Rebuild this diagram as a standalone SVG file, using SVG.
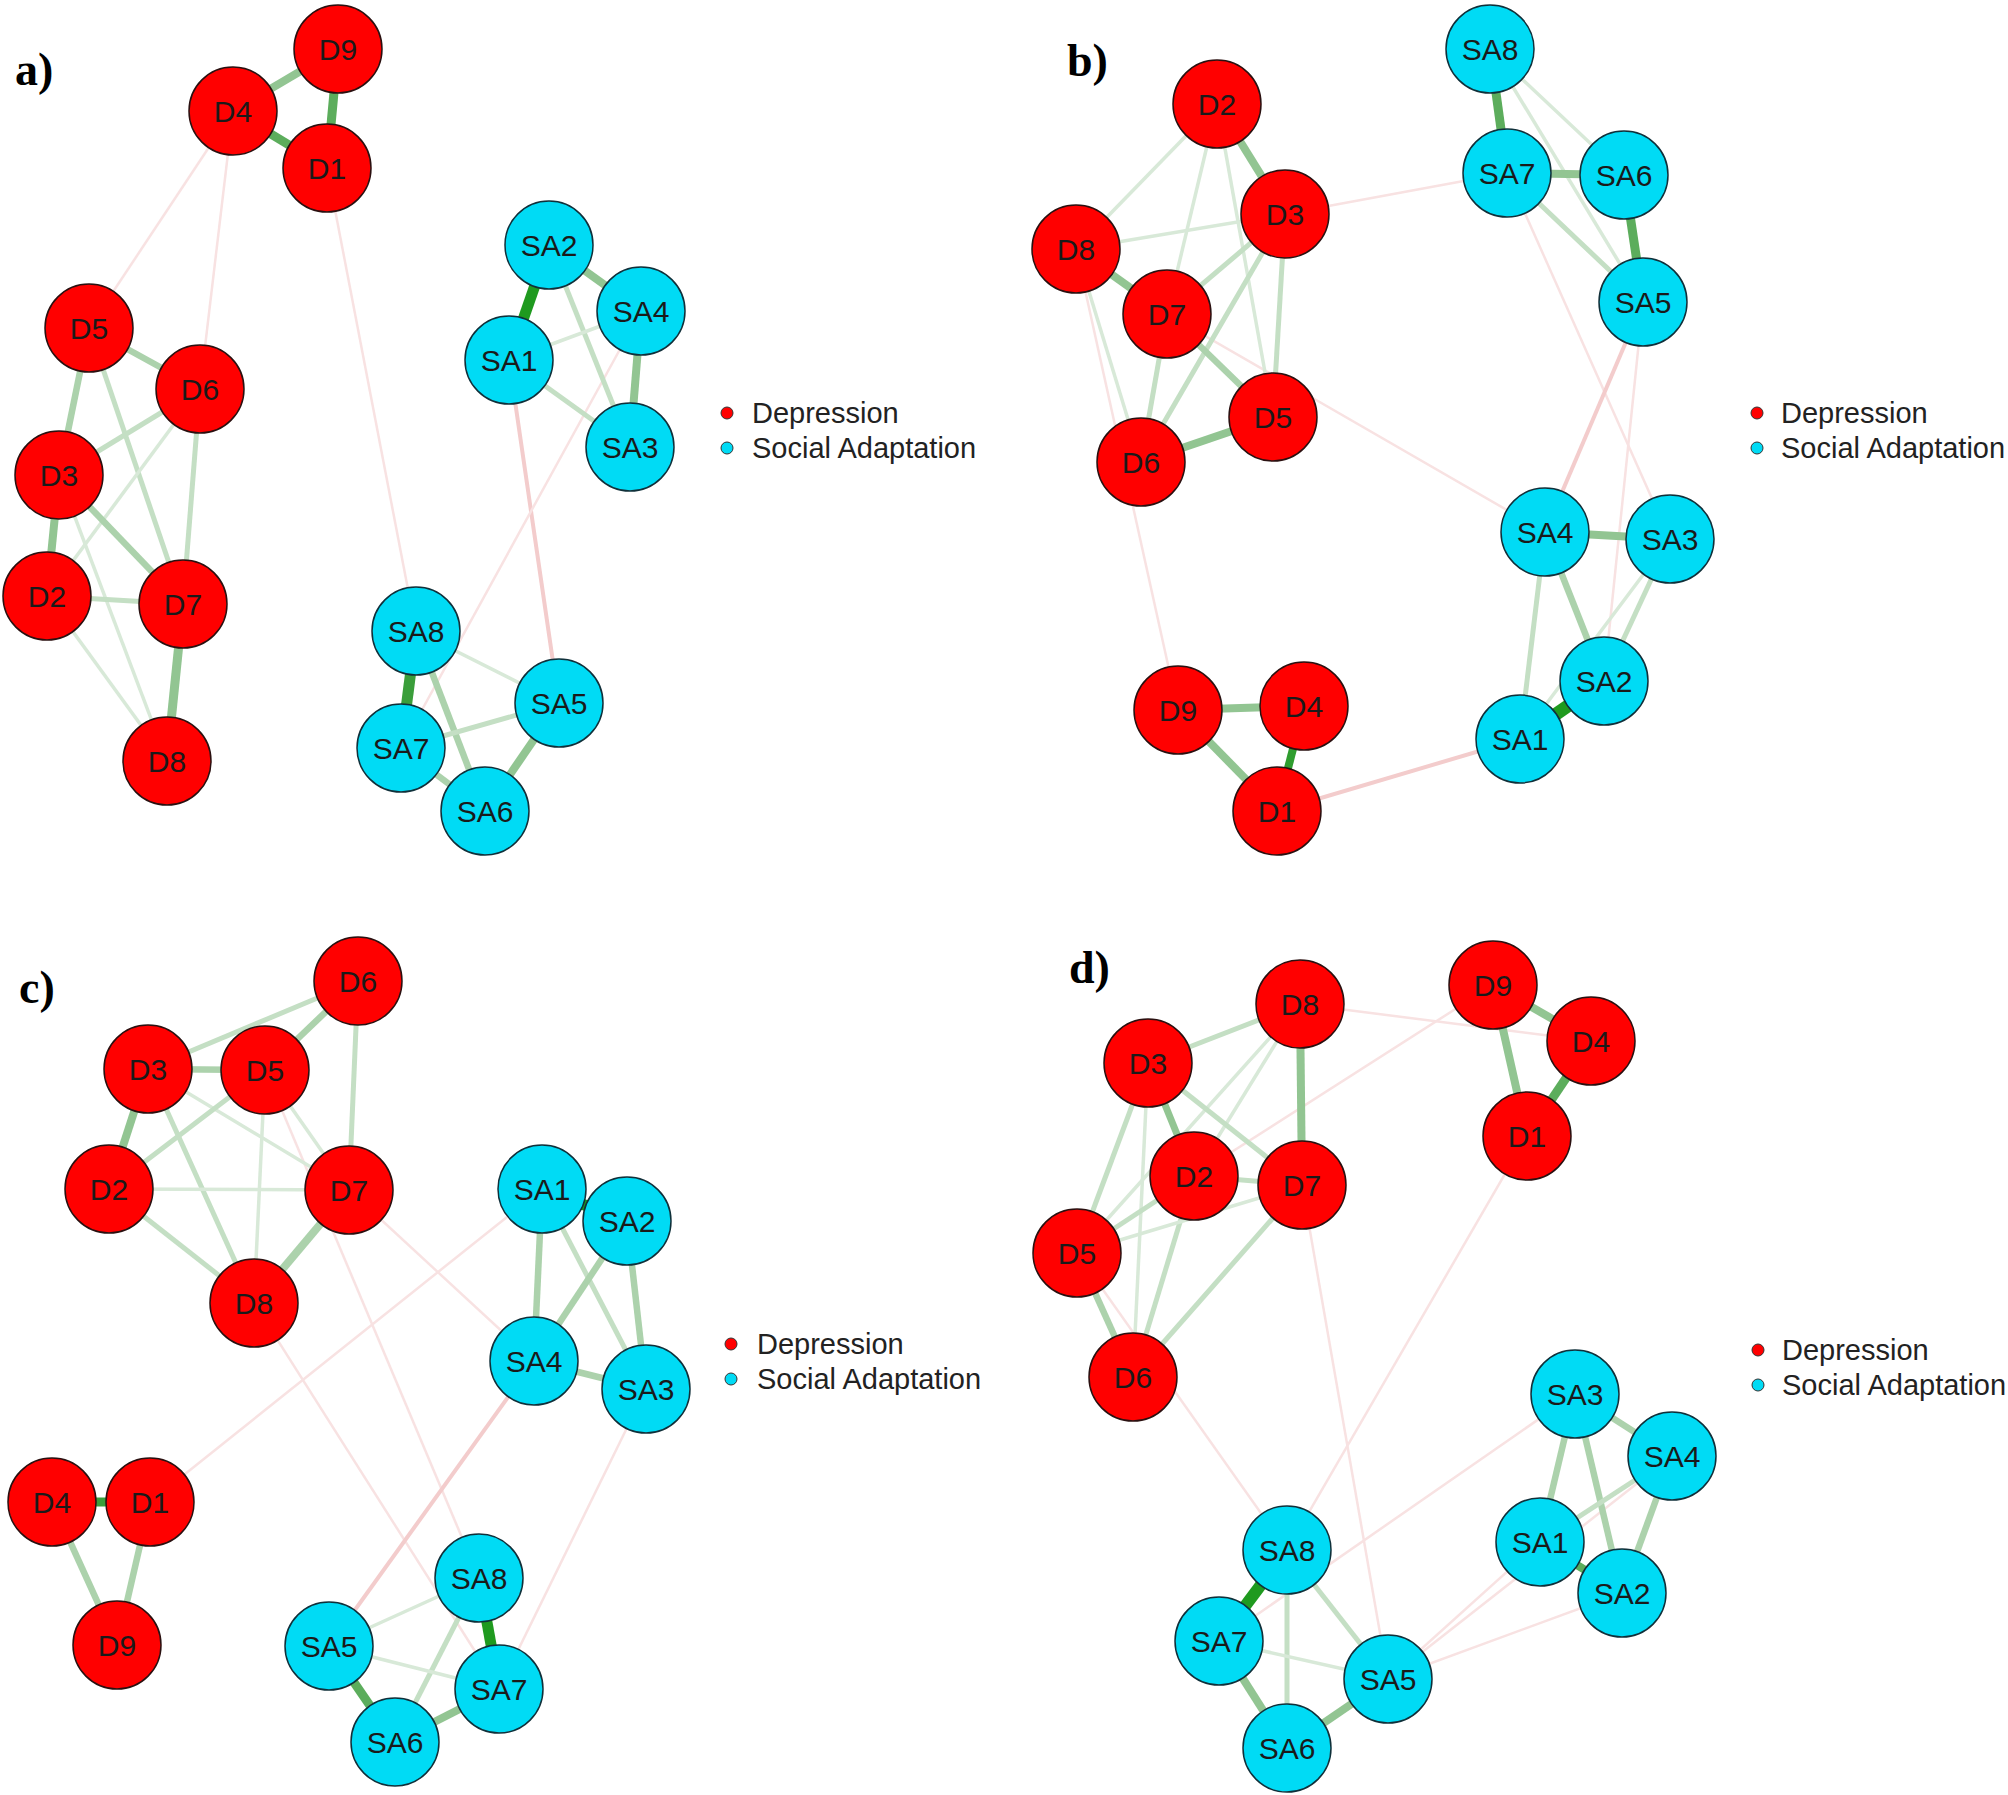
<svg xmlns="http://www.w3.org/2000/svg" width="2008" height="1795" viewBox="0 0 2008 1795">
<style>
line{stroke-linecap:butt;fill:none}
.s0{stroke:#1f9a1f;stroke-width:11}
.s1{stroke:#5cad5c;stroke-width:9}
.s2{stroke:#92c592;stroke-width:8}
.s3{stroke:#acd2ac;stroke-width:6.5}
.s4{stroke:#c4dfc4;stroke-width:5}
.s5{stroke:#d8e9d8;stroke-width:3.5}
.n1{stroke:#f3cccc;stroke-width:4}
.n2{stroke:#f8e2e2;stroke-width:2.5}
.dn circle{fill:#ff0000;stroke:#2a1010;stroke-width:1.5}
.sn circle{fill:#00dbf5;stroke:#10303a;stroke-width:1.5}
.node text{font-family:"Liberation Sans",Arial,sans-serif;font-size:30px;fill:#1a1a1a;text-anchor:middle}
.lg{font-family:"Liberation Sans",Arial,sans-serif;font-size:29px;fill:#222}
.pl{font-family:"Liberation Serif","Times New Roman",serif;font-size:46px;font-weight:bold;fill:#000}
.ld{fill:#ff0000;stroke:#333;stroke-width:1}
.ls{fill:#00dbf5;stroke:#333;stroke-width:1}
</style>
<rect width="2008" height="1795" fill="#ffffff"/>
<g id="connectors">
<g id="edges-a">
<line class="n2" x1="233" y1="111" x2="89" y2="328"/>
<line class="n2" x1="233" y1="111" x2="200" y2="389"/>
<line class="n2" x1="327" y1="168" x2="416" y2="631"/>
<line class="n1" x1="509" y1="360" x2="559" y2="703"/>
<line class="n2" x1="641" y1="311" x2="401" y2="748"/>
<line class="s2" x1="233" y1="111" x2="338" y2="49"/>
<line class="s1" x1="338" y1="49" x2="327" y2="168"/>
<line class="s1" x1="233" y1="111" x2="327" y2="168"/>
<line class="s3" x1="89" y1="328" x2="200" y2="389"/>
<line class="s3" x1="89" y1="328" x2="59" y2="475"/>
<line class="s4" x1="89" y1="328" x2="183" y2="604"/>
<line class="s4" x1="200" y1="389" x2="59" y2="475"/>
<line class="s5" x1="200" y1="389" x2="47" y2="596"/>
<line class="s4" x1="200" y1="389" x2="183" y2="604"/>
<line class="s2" x1="59" y1="475" x2="47" y2="596"/>
<line class="s3" x1="59" y1="475" x2="183" y2="604"/>
<line class="s5" x1="59" y1="475" x2="167" y2="761"/>
<line class="s4" x1="47" y1="596" x2="183" y2="604"/>
<line class="s5" x1="47" y1="596" x2="167" y2="761"/>
<line class="s2" x1="183" y1="604" x2="167" y2="761" style="stroke-width:9"/>
<line class="s0" x1="549" y1="245" x2="509" y2="360"/>
<line class="s2" x1="549" y1="245" x2="641" y2="311"/>
<line class="s4" x1="549" y1="245" x2="630" y2="447"/>
<line class="s5" x1="509" y1="360" x2="641" y2="311"/>
<line class="s4" x1="509" y1="360" x2="630" y2="447"/>
<line class="s2" x1="641" y1="311" x2="630" y2="447"/>
<line class="s0" x1="416" y1="631" x2="401" y2="748" style="stroke:#3a9e3a"/>
<line class="s5" x1="416" y1="631" x2="559" y2="703"/>
<line class="s3" x1="416" y1="631" x2="485" y2="811"/>
<line class="s4" x1="401" y1="748" x2="559" y2="703"/>
<line class="s3" x1="401" y1="748" x2="485" y2="811"/>
<line class="s2" x1="559" y1="703" x2="485" y2="811"/>
</g>
<g id="edges-b">
<line class="n2" x1="1507" y1="173" x2="1285" y2="214"/>
<line class="n2" x1="1507" y1="173" x2="1670" y2="539"/>
<line class="n1" x1="1643" y1="302" x2="1545" y2="532"/>
<line class="n2" x1="1643" y1="302" x2="1604" y2="681"/>
<line class="n2" x1="1076" y1="249" x2="1178" y2="710"/>
<line class="n2" x1="1167" y1="314" x2="1545" y2="532"/>
<line class="n1" x1="1277" y1="811" x2="1520" y2="739"/>
<line class="s1" x1="1490" y1="49" x2="1507" y2="173"/>
<line class="s5" x1="1490" y1="49" x2="1624" y2="175"/>
<line class="s5" x1="1490" y1="49" x2="1643" y2="302"/>
<line class="s2" x1="1507" y1="173" x2="1624" y2="175"/>
<line class="s1" x1="1624" y1="175" x2="1643" y2="302"/>
<line class="s4" x1="1507" y1="173" x2="1643" y2="302"/>
<line class="s2" x1="1217" y1="104" x2="1285" y2="214"/>
<line class="s5" x1="1217" y1="104" x2="1076" y2="249"/>
<line class="s5" x1="1217" y1="104" x2="1167" y2="314"/>
<line class="s5" x1="1217" y1="104" x2="1273" y2="417"/>
<line class="s5" x1="1285" y1="214" x2="1076" y2="249"/>
<line class="s4" x1="1285" y1="214" x2="1167" y2="314"/>
<line class="s4" x1="1285" y1="214" x2="1141" y2="462"/>
<line class="s4" x1="1285" y1="214" x2="1273" y2="417"/>
<line class="s2" x1="1076" y1="249" x2="1167" y2="314"/>
<line class="s5" x1="1076" y1="249" x2="1141" y2="462"/>
<line class="s3" x1="1167" y1="314" x2="1273" y2="417"/>
<line class="s4" x1="1167" y1="314" x2="1141" y2="462"/>
<line class="s2" x1="1273" y1="417" x2="1141" y2="462"/>
<line class="s2" x1="1178" y1="710" x2="1304" y2="706"/>
<line class="s2" x1="1178" y1="710" x2="1277" y2="811"/>
<line class="s0" x1="1304" y1="706" x2="1277" y2="811" style="stroke-width:8;stroke:#2f9d2f"/>
<line class="s2" x1="1545" y1="532" x2="1670" y2="539"/>
<line class="s3" x1="1545" y1="532" x2="1604" y2="681"/>
<line class="s4" x1="1545" y1="532" x2="1520" y2="739"/>
<line class="s4" x1="1670" y1="539" x2="1604" y2="681"/>
<line class="s5" x1="1670" y1="539" x2="1520" y2="739"/>
<line class="s0" x1="1520" y1="739" x2="1604" y2="681" style="stroke-width:13"/>
</g>
<g id="edges-c">
<line class="n2" x1="265" y1="1070" x2="479" y2="1578"/>
<line class="n2" x1="349" y1="1190" x2="534" y2="1361"/>
<line class="n2" x1="254" y1="1303" x2="499" y2="1689"/>
<line class="n2" x1="542" y1="1189" x2="150" y2="1502"/>
<line class="n1" x1="534" y1="1361" x2="329" y2="1646"/>
<line class="n2" x1="646" y1="1389" x2="499" y2="1689"/>
<line class="s3" x1="358" y1="981" x2="265" y2="1070"/>
<line class="s4" x1="358" y1="981" x2="148" y2="1069"/>
<line class="s4" x1="358" y1="981" x2="349" y2="1190"/>
<line class="s3" x1="148" y1="1069" x2="265" y2="1070"/>
<line class="s2" x1="148" y1="1069" x2="109" y2="1189"/>
<line class="s5" x1="148" y1="1069" x2="349" y2="1190"/>
<line class="s4" x1="148" y1="1069" x2="254" y2="1303"/>
<line class="s4" x1="265" y1="1070" x2="109" y2="1189"/>
<line class="s5" x1="265" y1="1070" x2="254" y2="1303"/>
<line class="s5" x1="265" y1="1070" x2="349" y2="1190"/>
<line class="s5" x1="109" y1="1189" x2="349" y2="1190"/>
<line class="s4" x1="109" y1="1189" x2="254" y2="1303"/>
<line class="s3" x1="349" y1="1190" x2="254" y2="1303" style="stroke-width:8"/>
<line class="s0" x1="542" y1="1189" x2="627" y2="1221"/>
<line class="s3" x1="542" y1="1189" x2="534" y2="1361"/>
<line class="s4" x1="542" y1="1189" x2="646" y2="1389"/>
<line class="s3" x1="627" y1="1221" x2="534" y2="1361"/>
<line class="s3" x1="627" y1="1221" x2="646" y2="1389"/>
<line class="s3" x1="534" y1="1361" x2="646" y2="1389"/>
<line class="s0" x1="52" y1="1502" x2="150" y2="1502" style="stroke-width:9;stroke:#3a9e3a"/>
<line class="s3" x1="52" y1="1502" x2="117" y2="1645"/>
<line class="s3" x1="150" y1="1502" x2="117" y2="1645"/>
<line class="s0" x1="479" y1="1578" x2="499" y2="1689"/>
<line class="s5" x1="479" y1="1578" x2="329" y2="1646"/>
<line class="s4" x1="479" y1="1578" x2="395" y2="1742"/>
<line class="s5" x1="329" y1="1646" x2="499" y2="1689"/>
<line class="s1" x1="329" y1="1646" x2="395" y2="1742"/>
<line class="s2" x1="395" y1="1742" x2="499" y2="1689"/>
</g>
<g id="edges-d">
<line class="n2" x1="1300" y1="1004" x2="1591" y2="1041"/>
<line class="n2" x1="1493" y1="985" x2="1194" y2="1176"/>
<line class="n2" x1="1077" y1="1253" x2="1287" y2="1550"/>
<line class="n2" x1="1302" y1="1185" x2="1388" y2="1679"/>
<line class="n2" x1="1527" y1="1136" x2="1287" y2="1550"/>
<line class="n2" x1="1575" y1="1394" x2="1219" y2="1641"/>
<line class="n2" x1="1540" y1="1542" x2="1388" y2="1679"/>
<line class="n2" x1="1672" y1="1456" x2="1388" y2="1679"/>
<line class="n2" x1="1622" y1="1593" x2="1388" y2="1679"/>
<line class="s2" x1="1493" y1="985" x2="1591" y2="1041"/>
<line class="s2" x1="1493" y1="985" x2="1527" y2="1136"/>
<line class="s1" x1="1591" y1="1041" x2="1527" y2="1136"/>
<line class="s4" x1="1300" y1="1004" x2="1148" y2="1063"/>
<line class="s2" x1="1300" y1="1004" x2="1302" y2="1185"/>
<line class="s5" x1="1300" y1="1004" x2="1194" y2="1176"/>
<line class="s5" x1="1300" y1="1004" x2="1077" y2="1253"/>
<line class="s2" x1="1148" y1="1063" x2="1194" y2="1176" style="stroke-width:7"/>
<line class="s4" x1="1148" y1="1063" x2="1302" y2="1185"/>
<line class="s4" x1="1148" y1="1063" x2="1077" y2="1253"/>
<line class="s5" x1="1148" y1="1063" x2="1133" y2="1377"/>
<line class="s4" x1="1194" y1="1176" x2="1302" y2="1185"/>
<line class="s4" x1="1194" y1="1176" x2="1077" y2="1253"/>
<line class="s4" x1="1194" y1="1176" x2="1133" y2="1377"/>
<line class="s5" x1="1302" y1="1185" x2="1077" y2="1253"/>
<line class="s4" x1="1302" y1="1185" x2="1133" y2="1377"/>
<line class="s3" x1="1077" y1="1253" x2="1133" y2="1377"/>
<line class="s3" x1="1575" y1="1394" x2="1672" y2="1456"/>
<line class="s3" x1="1575" y1="1394" x2="1540" y2="1542"/>
<line class="s3" x1="1575" y1="1394" x2="1622" y2="1593"/>
<line class="s4" x1="1672" y1="1456" x2="1540" y2="1542"/>
<line class="s3" x1="1672" y1="1456" x2="1622" y2="1593"/>
<line class="s1" x1="1540" y1="1542" x2="1622" y2="1593" style="stroke-width:8"/>
<line class="s0" x1="1287" y1="1550" x2="1219" y2="1641" style="stroke-width:12"/>
<line class="s4" x1="1287" y1="1550" x2="1287" y2="1748"/>
<line class="s4" x1="1287" y1="1550" x2="1388" y2="1679"/>
<line class="s5" x1="1219" y1="1641" x2="1388" y2="1679"/>
<line class="s2" x1="1219" y1="1641" x2="1287" y2="1748"/>
<line class="s2" x1="1287" y1="1748" x2="1388" y2="1679"/>
</g>
</g>
<g id="panel-a">
<text class="pl" x="15" y="85">a)</text>
<g id="a-D9" class="node dn"><circle cx="338" cy="49" r="44"/><text x="338" y="60">D9</text></g>
<g id="a-D4" class="node dn"><circle cx="233" cy="111" r="44"/><text x="233" y="122">D4</text></g>
<g id="a-D1" class="node dn"><circle cx="327" cy="168" r="44"/><text x="327" y="179">D1</text></g>
<g id="a-D5" class="node dn"><circle cx="89" cy="328" r="44"/><text x="89" y="339">D5</text></g>
<g id="a-D6" class="node dn"><circle cx="200" cy="389" r="44"/><text x="200" y="400">D6</text></g>
<g id="a-D3" class="node dn"><circle cx="59" cy="475" r="44"/><text x="59" y="486">D3</text></g>
<g id="a-D2" class="node dn"><circle cx="47" cy="596" r="44"/><text x="47" y="607">D2</text></g>
<g id="a-D7" class="node dn"><circle cx="183" cy="604" r="44"/><text x="183" y="615">D7</text></g>
<g id="a-D8" class="node dn"><circle cx="167" cy="761" r="44"/><text x="167" y="772">D8</text></g>
<g id="a-SA2" class="node sn"><circle cx="549" cy="245" r="44"/><text x="549" y="256">SA2</text></g>
<g id="a-SA4" class="node sn"><circle cx="641" cy="311" r="44"/><text x="641" y="322">SA4</text></g>
<g id="a-SA1" class="node sn"><circle cx="509" cy="360" r="44"/><text x="509" y="371">SA1</text></g>
<g id="a-SA3" class="node sn"><circle cx="630" cy="447" r="44"/><text x="630" y="458">SA3</text></g>
<g id="a-SA8" class="node sn"><circle cx="416" cy="631" r="44"/><text x="416" y="642">SA8</text></g>
<g id="a-SA5" class="node sn"><circle cx="559" cy="703" r="44"/><text x="559" y="714">SA5</text></g>
<g id="a-SA7" class="node sn"><circle cx="401" cy="748" r="44"/><text x="401" y="759">SA7</text></g>
<g id="a-SA6" class="node sn"><circle cx="485" cy="811" r="44"/><text x="485" y="822">SA6</text></g>
<g id="legend-a"><circle class="ld" cx="727" cy="413" r="6"/><text class="lg" x="752" y="423">Depression</text><circle class="ls" cx="727" cy="448" r="6"/><text class="lg" x="752" y="458">Social Adaptation</text></g>
</g>
<g id="panel-b">
<text class="pl" x="1067" y="76">b)</text>
<g id="b-SA8" class="node sn"><circle cx="1490" cy="49" r="44"/><text x="1490" y="60">SA8</text></g>
<g id="b-D2" class="node dn"><circle cx="1217" cy="104" r="44"/><text x="1217" y="115">D2</text></g>
<g id="b-SA7" class="node sn"><circle cx="1507" cy="173" r="44"/><text x="1507" y="184">SA7</text></g>
<g id="b-SA6" class="node sn"><circle cx="1624" cy="175" r="44"/><text x="1624" y="186">SA6</text></g>
<g id="b-D3" class="node dn"><circle cx="1285" cy="214" r="44"/><text x="1285" y="225">D3</text></g>
<g id="b-D8" class="node dn"><circle cx="1076" cy="249" r="44"/><text x="1076" y="260">D8</text></g>
<g id="b-D7" class="node dn"><circle cx="1167" cy="314" r="44"/><text x="1167" y="325">D7</text></g>
<g id="b-SA5" class="node sn"><circle cx="1643" cy="302" r="44"/><text x="1643" y="313">SA5</text></g>
<g id="b-D5" class="node dn"><circle cx="1273" cy="417" r="44"/><text x="1273" y="428">D5</text></g>
<g id="b-D6" class="node dn"><circle cx="1141" cy="462" r="44"/><text x="1141" y="473">D6</text></g>
<g id="b-SA4" class="node sn"><circle cx="1545" cy="532" r="44"/><text x="1545" y="543">SA4</text></g>
<g id="b-SA3" class="node sn"><circle cx="1670" cy="539" r="44"/><text x="1670" y="550">SA3</text></g>
<g id="b-SA2" class="node sn"><circle cx="1604" cy="681" r="44"/><text x="1604" y="692">SA2</text></g>
<g id="b-D9" class="node dn"><circle cx="1178" cy="710" r="44"/><text x="1178" y="721">D9</text></g>
<g id="b-D4" class="node dn"><circle cx="1304" cy="706" r="44"/><text x="1304" y="717">D4</text></g>
<g id="b-SA1" class="node sn"><circle cx="1520" cy="739" r="44"/><text x="1520" y="750">SA1</text></g>
<g id="b-D1" class="node dn"><circle cx="1277" cy="811" r="44"/><text x="1277" y="822">D1</text></g>
<g id="legend-b"><circle class="ld" cx="1757" cy="413" r="6"/><text class="lg" x="1781" y="423">Depression</text><circle class="ls" cx="1757" cy="448" r="6"/><text class="lg" x="1781" y="458">Social Adaptation</text></g>
</g>
<g id="panel-c">
<text class="pl" x="19" y="1003">c)</text>
<g id="c-D6" class="node dn"><circle cx="358" cy="981" r="44"/><text x="358" y="992">D6</text></g>
<g id="c-D3" class="node dn"><circle cx="148" cy="1069" r="44"/><text x="148" y="1080">D3</text></g>
<g id="c-D5" class="node dn"><circle cx="265" cy="1070" r="44"/><text x="265" y="1081">D5</text></g>
<g id="c-D2" class="node dn"><circle cx="109" cy="1189" r="44"/><text x="109" y="1200">D2</text></g>
<g id="c-D7" class="node dn"><circle cx="349" cy="1190" r="44"/><text x="349" y="1201">D7</text></g>
<g id="c-D8" class="node dn"><circle cx="254" cy="1303" r="44"/><text x="254" y="1314">D8</text></g>
<g id="c-SA1" class="node sn"><circle cx="542" cy="1189" r="44"/><text x="542" y="1200">SA1</text></g>
<g id="c-SA2" class="node sn"><circle cx="627" cy="1221" r="44"/><text x="627" y="1232">SA2</text></g>
<g id="c-SA4" class="node sn"><circle cx="534" cy="1361" r="44"/><text x="534" y="1372">SA4</text></g>
<g id="c-SA3" class="node sn"><circle cx="646" cy="1389" r="44"/><text x="646" y="1400">SA3</text></g>
<g id="c-D4" class="node dn"><circle cx="52" cy="1502" r="44"/><text x="52" y="1513">D4</text></g>
<g id="c-D1" class="node dn"><circle cx="150" cy="1502" r="44"/><text x="150" y="1513">D1</text></g>
<g id="c-D9" class="node dn"><circle cx="117" cy="1645" r="44"/><text x="117" y="1656">D9</text></g>
<g id="c-SA8" class="node sn"><circle cx="479" cy="1578" r="44"/><text x="479" y="1589">SA8</text></g>
<g id="c-SA5" class="node sn"><circle cx="329" cy="1646" r="44"/><text x="329" y="1657">SA5</text></g>
<g id="c-SA7" class="node sn"><circle cx="499" cy="1689" r="44"/><text x="499" y="1700">SA7</text></g>
<g id="c-SA6" class="node sn"><circle cx="395" cy="1742" r="44"/><text x="395" y="1753">SA6</text></g>
<g id="legend-c"><circle class="ld" cx="731" cy="1344" r="6"/><text class="lg" x="757" y="1354">Depression</text><circle class="ls" cx="731" cy="1379" r="6"/><text class="lg" x="757" y="1389">Social Adaptation</text></g>
</g>
<g id="panel-d">
<text class="pl" x="1069" y="983">d)</text>
<g id="d-D9" class="node dn"><circle cx="1493" cy="985" r="44"/><text x="1493" y="996">D9</text></g>
<g id="d-D8" class="node dn"><circle cx="1300" cy="1004" r="44"/><text x="1300" y="1015">D8</text></g>
<g id="d-D4" class="node dn"><circle cx="1591" cy="1041" r="44"/><text x="1591" y="1052">D4</text></g>
<g id="d-D3" class="node dn"><circle cx="1148" cy="1063" r="44"/><text x="1148" y="1074">D3</text></g>
<g id="d-D1" class="node dn"><circle cx="1527" cy="1136" r="44"/><text x="1527" y="1147">D1</text></g>
<g id="d-D2" class="node dn"><circle cx="1194" cy="1176" r="44"/><text x="1194" y="1187">D2</text></g>
<g id="d-D7" class="node dn"><circle cx="1302" cy="1185" r="44"/><text x="1302" y="1196">D7</text></g>
<g id="d-D5" class="node dn"><circle cx="1077" cy="1253" r="44"/><text x="1077" y="1264">D5</text></g>
<g id="d-D6" class="node dn"><circle cx="1133" cy="1377" r="44"/><text x="1133" y="1388">D6</text></g>
<g id="d-SA3" class="node sn"><circle cx="1575" cy="1394" r="44"/><text x="1575" y="1405">SA3</text></g>
<g id="d-SA4" class="node sn"><circle cx="1672" cy="1456" r="44"/><text x="1672" y="1467">SA4</text></g>
<g id="d-SA1" class="node sn"><circle cx="1540" cy="1542" r="44"/><text x="1540" y="1553">SA1</text></g>
<g id="d-SA8" class="node sn"><circle cx="1287" cy="1550" r="44"/><text x="1287" y="1561">SA8</text></g>
<g id="d-SA2" class="node sn"><circle cx="1622" cy="1593" r="44"/><text x="1622" y="1604">SA2</text></g>
<g id="d-SA7" class="node sn"><circle cx="1219" cy="1641" r="44"/><text x="1219" y="1652">SA7</text></g>
<g id="d-SA5" class="node sn"><circle cx="1388" cy="1679" r="44"/><text x="1388" y="1690">SA5</text></g>
<g id="d-SA6" class="node sn"><circle cx="1287" cy="1748" r="44"/><text x="1287" y="1759">SA6</text></g>
<g id="legend-d"><circle class="ld" cx="1758" cy="1350" r="6"/><text class="lg" x="1782" y="1360">Depression</text><circle class="ls" cx="1758" cy="1385" r="6"/><text class="lg" x="1782" y="1395">Social Adaptation</text></g>
</g>
</svg>
